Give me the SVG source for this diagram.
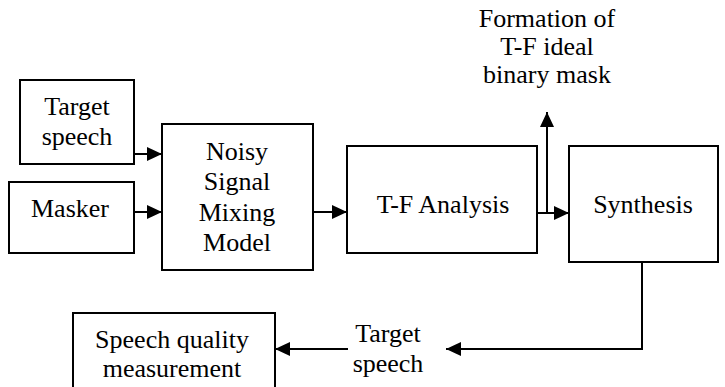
<svg xmlns="http://www.w3.org/2000/svg" width="725" height="387" viewBox="0 0 725 387">
  <style>
    .box { fill: #fff; stroke: #000; stroke-width: 2; }
    .wire { fill: none; stroke: #000; stroke-width: 2; }
    .lbl { font-family: 'Liberation Serif', 'Times New Roman', serif; font-size: 26px; fill: #000; text-anchor: middle; }
  </style>
  <defs>
    <marker id="arrow" viewBox="0 0 15 14" refX="15" refY="7" markerWidth="15" markerHeight="14" markerUnits="userSpaceOnUse" orient="auto">
      <path d="M0,0 L15,7 L0,14 Z" fill="#000"/>
    </marker>
  </defs>
  <rect width="725" height="387" fill="#fff"/>

  <!-- signal flow -->
  <g id="connectors">
    <line class="wire" x1="134" y1="154" x2="162" y2="154" marker-end="url(#arrow)"/>
    <line class="wire" x1="134" y1="212" x2="162" y2="212" marker-end="url(#arrow)"/>
    <line class="wire" x1="313" y1="212" x2="347" y2="212" marker-end="url(#arrow)"/>
    <line class="wire" x1="534" y1="213" x2="569" y2="213" marker-end="url(#arrow)"/>
    <line class="wire" x1="547" y1="213" x2="547" y2="112" marker-end="url(#arrow)"/>
    <polyline class="wire" points="642,262 642,349 446,349" marker-end="url(#arrow)"/>
    <line class="wire" x1="348" y1="349" x2="275" y2="349" marker-end="url(#arrow)"/>
  </g>

  <g id="target-speech" class="lbl">
    <rect class="box" x="20" y="80" width="114" height="84"/>
    <text x="77" y="115">Target</text>
    <text x="77" y="145">speech</text>
  </g>

  <g id="masker" class="lbl">
    <rect class="box" x="9" y="182" width="125" height="71"/>
    <text x="70" y="217">Masker</text>
  </g>

  <g id="mixing-model" class="lbl">
    <rect class="box" x="162" y="124" width="151" height="146"/>
    <text x="237" y="160">Noisy</text>
    <text x="237" y="190">Signal</text>
    <text x="237" y="221">Mixing</text>
    <text x="237" y="251">Model</text>
  </g>

  <g id="tf-analysis" class="lbl">
    <rect class="box" x="347" y="146" width="190" height="107"/>
    <text x="443" y="213">T-F Analysis</text>
  </g>

  <g id="synthesis" class="lbl">
    <rect class="box" x="569" y="146" width="149" height="116"/>
    <text x="643" y="213">Synthesis</text>
  </g>

  <g id="binary-mask" class="lbl">
    <text x="547" y="27">Formation of</text>
    <text x="547" y="55">T-F ideal</text>
    <text x="547" y="83">binary mask</text>
  </g>

  <g id="speech-quality" class="lbl">
    <rect class="box" x="73" y="313" width="202" height="90"/>
    <text x="172" y="348">Speech quality</text>
    <text x="172" y="377">measurement</text>
  </g>

  <g id="target-speech-out" class="lbl">
    <text x="388" y="342">Target</text>
    <text x="388" y="372">speech</text>
  </g>
</svg>
